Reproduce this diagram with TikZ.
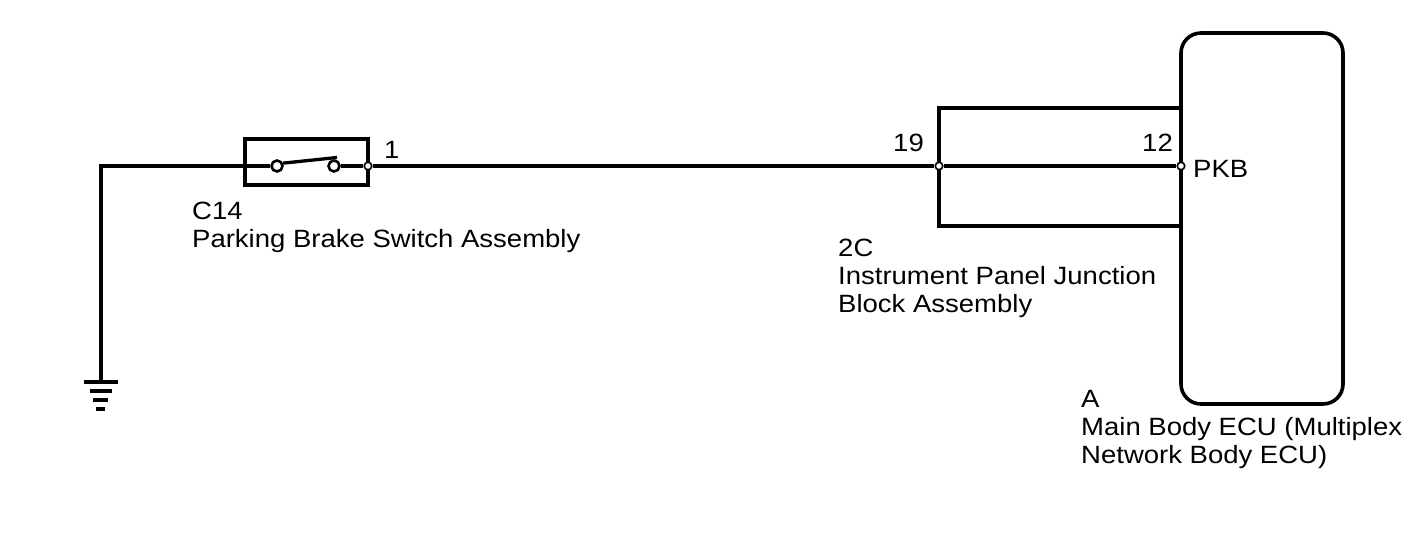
\documentclass[tikz,border=0pt]{standalone}
\usepackage{fontspec}
\setmainfont{Liberation Sans}[FakeStretch=1.1]
\begin{document}
\begin{tikzpicture}[x=1pt,y=-1pt,
  wire/.style={line width=3.3pt},
  lbl/.style={anchor=base west, inner sep=0pt, align=left, font=\fontsize{25}{27.8}\selectfont},
  term/.style={circle, draw, fill=white, line width=1.6pt, minimum size=7.5pt, inner sep=0pt},
  contact/.style={circle, draw, fill=white, line width=2.6pt, minimum size=11pt, inner sep=0pt},
  swbox/.style={draw, line width=3.3pt, minimum width=123pt, minimum height=46pt, inner sep=0pt},
  ecubox/.style={draw, line width=3.6pt, rounded corners=20pt, minimum width=162pt, minimum height=371pt, inner sep=0pt}
]
\useasboundingbox (0,0) rectangle (1424,558);

% ECU
\node[ecubox] (ecu) at (1262,218.5) {};
% junction block
\draw[wire] (1181,108) -- (939,108) -- (939,226) -- (1181,226);
% switch box
\node[swbox] (sw) at (306.5,162) {};

% contacts and terminals
\node[contact] (c1) at (277,166) {};
\node[contact] (c2) at (334,166) {};
\coordinate (lev) at (337,157.5);
\draw[wire] (c1.25) -- (lev);

\coordinate (g) at (101,382);
\draw[wire] (c1.west) -| (g);
\draw[wire] (84,382) -- (118,382);
\draw[wire] (90,391) -- (112,391);
\draw[wire] (93,400) -- (108,400);
\draw[wire] (96,409) -- (105,409);

\node[term] (t1) at (368,166) {};
\node[term] (t19) at (939,166) {};
\node[term] (t12) at (1181,166) {};
\draw[wire] (c2.east) -- (t1.west);
\draw[wire] (t1.east) -- (t19.west);
\draw[wire] (t19.east) -- (t12.west);

% labels
\node[lbl] (l1) at (384,158) {1};
\node[lbl] (l19) at (893,151) {19};
\node[lbl] (l12) at (1142,151) {12};
\node[lbl] (lpkb) at (1193,177) {PKB};
\node[lbl] (lsw) at (192,247) {C14\\Parking Brake Switch Assembly};
\node[lbl] (ljb) at (838,312) {2C\\Instrument Panel Junction\\Block Assembly};
\node[lbl] (lecu) at (1081,463) {A\\Main Body ECU (Multiplex\\Network Body ECU)};
\end{tikzpicture}
\end{document}
